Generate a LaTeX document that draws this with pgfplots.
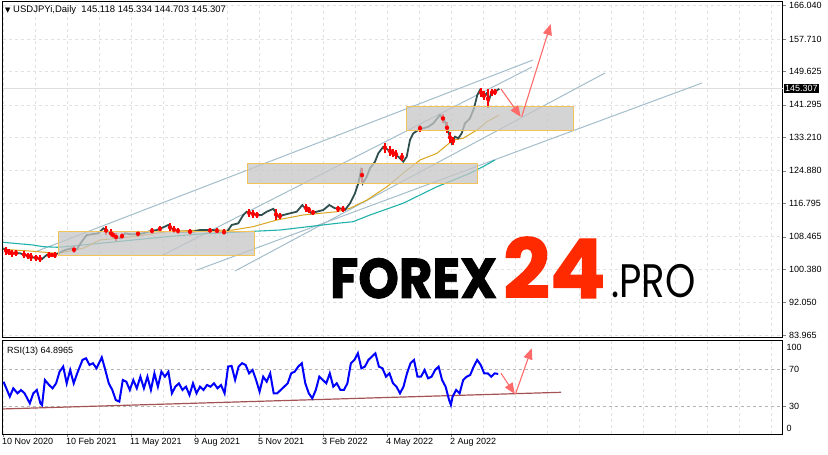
\documentclass[border=0pt]{standalone}
\usepackage{fontspec}
\setmainfont{Liberation Sans}
\newfontfamily\dejavu{DejaVu Sans}
\newfontfamily\logo{Poppins}[BoldFeatures={FakeBold=1.6}]
\usepackage{pgfplots}
\pgfplotsset{compat=1.18}
\usetikzlibrary{arrows.meta}

\definecolor{candle}{HTML}{2F4F4F}
\definecolor{ma50}{HTML}{DAA520}
\definecolor{ma200}{HTML}{20B2AA}
\definecolor{chan}{HTML}{A3BDCB}
\definecolor{boxline}{HTML}{F2C35A}
\definecolor{arrowred}{HTML}{FF6B6B}
\definecolor{gridc}{HTML}{E2E2E2}
\definecolor{rsigrid}{HTML}{B4B4B4}
\definecolor{rsitrend}{HTML}{A55252}
\definecolor{logored}{HTML}{FF2A00}

\newcommand{\tf}{\fontsize{9bp}{10bp}\selectfont}

\pgfplotsset{
  mt4/.style={
    scale only axis, width=780bp, anchor=south west,
    xmin=2.5, xmax=782.5,
    axis line style={black, line width=1bp},
    tick label style={font=\tf},
    ytick pos=right, yticklabel pos=right,
    tick align=outside, major tick length=3bp,
    /pgf/number format/assume math mode=true,
    grid style={gridc, dash pattern=on 3bp off 3bp, line width=0.6bp},
    clip=false,
  },
  zone/.style={fill=gray!45, fill opacity=0.75, draw=boxline, line width=1bp, draw opacity=1},
  chl/.style={chan, line width=1bp},
  arr/.style={arrowred, line width=1.1bp, -{Triangle[length=11bp,width=9bp]}},
}

% price panel, x = bar position (one pixel per day), y = USDJPY
\pgfplotstableread{
x y
3.3 105.57
10 104.32
20 104.32
30 103.47
36.7 103.08
41.7 102.83
46.7 103.90
53.3 103.90
58.3 104.32
65 105.14
71.7 105.57
76.7 105.32
81.7 107.21
86.7 108.88
91.7 109.05
98.3 109.30
103.3 110.55
108.3 109.70
115 108.46
120 108.06
125 109.30
130 109.05
136.7 109.05
143.3 109.30
148.3 109.70
156.7 110.12
163.3 110.80
168.3 111.37
173.3 110.12
180 109.70
186.7 109.70
193.3 109.70
200 110.12
206.7 110.12
213.3 110.12
220 109.70
226.7 109.55
231.7 111.37
238.3 111.79
243.3 113.86
246.7 114.68
251.7 114.28
256.7 113.86
261.7 113.86
266.7 114.68
273.3 115.40
278.3 113.44
283.3 113.86
290 114.28
296.7 114.68
302.3 116.35
306.7 115.11
311.7 114.28
316.7 114.68
323.3 115.11
329.3 116.35
335 115.53
340 115.53
345 115.11
350 116.77
355 119.27
358.3 121.76
360.7 124.65
362.7 121.76
366.7 123.40
370 125.49
375 127.14
378.3 129.23
383.3 130.87
388.3 130.05
393.3 129.23
398.3 128.38
403.3 127.14
406.7 128.38
410 132.54
413.3 134.21
418.3 135.03
423.3 135.45
428.3 135.85
433.3 136.70
440 138.77
445 137.10
448.3 134.61
451.7 131.79
455 133.36
458.3 132.96
461.7 134.21
465 136.70
470 137.95
474 140.44
477.3 143.75
480 144.99
483.3 143.33
486.7 144.17
489 142.50
491.7 144.57
495 144.57
499.3 145.31
}\closes

% down candles: middle and half range
\pgfplotstableread{
x y e
6 105.0 1.0
9 104.6 0.8
12 104.3 0.9
16 104.4 0.7
24 104.0 0.8
28 103.7 0.7
31 103.4 0.9
36 103.2 0.7
40 103.0 0.9
49 103.9 0.7
52 103.9 0.6
55 103.9 0.7
74 105.2 0.9
106 110.0 1.0
111 109.3 1.0
113 108.9 0.8
116 108.4 0.9
122 108.6 0.7
138 109.2 0.8
152 109.9 0.7
160 110.4 0.8
170 110.8 1.1
174 110.2 0.9
178 109.9 0.8
190 109.7 0.7
210 110.0 0.7
217 109.9 0.6
224 109.6 0.8
249 114.4 1.0
253 114.1 0.9
257 113.9 0.8
276 114.0 1.3
280 113.6 0.8
306 115.6 1.0
309 115.1 0.8
313 114.5 0.7
338 115.4 0.8
343 115.3 0.8
362 123.8 1.8
385 130.6 1.2
390 129.8 1.2
393 129.3 1.0
396 129.0 1.1
402 128.3 1.0
420 135.5 0.9
443 137.9 1.2
447 135.6 1.4
450 133.2 1.3
453 132.3 1.1
481 144.4 1.1
484 143.6 1.2
488 142.8 2.4
492 144.4 0.9
495 144.5 0.8
}\downs

\pgfplotstableread{
x y
3 105.32
30 104.89
58 104.30
83 105.57
100 107.63
133 108.46
167 109.70
200 110.12
233 110.12
253 110.95
277 112.62
303 113.86
337 114.68
350 115.53
367 117.60
387 120.91
403 124.25
420 127.56
437 129.23
453 132.54
463 132.96
477 135.03
487 137.10
499 138.77
}\mafast

\pgfplotstableread{
x y
3 107.06
33 106.39
43 105.97
58 105.82
83 106.39
133 107.63
167 108.46
200 109.13
233 109.55
280 110.12
303 110.80
337 111.79
353 112.19
370 113.86
403 116.77
437 120.91
470 124.25
483 125.89
495 127.56
}\maslow

\pgfplotstableread{
x y
3.5 56.6
7 47.6
9.8 40.4
13.3 49.4
17.5 44.0
21 47.6
24.6 44.0
29.8 33.2
33.3 44.0
36.8 47.6
40.4 33.2
42.1 31.4
44.9 58.4
49.1 53.0
52.6 49.4
56.1 54.8
59.6 67.4
63.2 72.9
66.7 54.8
70.2 69.2
73.7 54.8
77.2 65.6
82.5 80.1
86 81.9
89.5 74.7
93 76.5
96.5 71.0
101.8 82.9
105.3 69.2
108.8 54.8
112.3 47.6
115.8 36.8
119.3 35.0
122.8 58.4
126.3 56.6
129.8 47.6
133.3 58.4
136.8 49.4
140.4 62.0
143.9 49.4
147.4 62.0
150.9 47.6
154.4 65.6
157.9 51.2
161.4 67.4
164.9 62.0
168.4 67.4
171.9 44.0
175.4 51.2
178.9 54.8
182.5 47.6
186 51.2
189.5 42.2
193 54.8
196.5 44.0
200 51.2
203.5 47.6
207 53.0
210.5 51.2
214 54.8
217.5 49.4
221 53.0
224.6 44.0
228.1 72.9
231.6 73.6
235.1 58.4
238.6 72.9
242.1 76.5
245.6 74.7
249.1 65.6
252.6 69.2
256.1 58.4
259.6 45.8
263.2 62.0
266.7 56.6
270.2 65.6
273.7 44.0
277.2 44.0
280.7 47.6
284.2 51.2
287.7 54.8
291.2 65.6
294.7 67.4
298.2 72.9
301.8 76.5
305.3 54.8
308.8 44.0
312.3 38.6
315.8 47.6
319.3 62.0
322.8 58.4
326.3 54.8
329.8 65.6
333.3 51.2
336.8 54.8
340.4 47.6
343.9 47.6
347.4 54.8
350.9 76.5
354.4 80.1
357.9 87.3
361.4 71.0
364.9 72.9
368.4 80.1
371.9 83.7
375.4 87.3
378.9 72.9
382.5 71.0
386 62.0
389.5 65.6
393 54.8
396.5 51.2
400 44.0
403.5 51.2
407 65.6
410.5 76.5
414 80.1
417.5 62.0
421 62.0
424.6 69.2
428.1 60.2
431.6 62.0
435.1 69.2
438.6 72.9
442.1 58.4
445.6 51.2
449.1 36.8
450.9 31.4
452.6 40.4
456.1 47.6
459.6 44.0
463.2 58.4
466.7 62.0
470.2 63.8
473.7 72.9
477.2 80.1
480.7 74.7
484.2 65.6
487.7 65.6
491.2 62.0
494.7 65.6
498.2 64.9
}\rsi

\begin{document}
\begin{tikzpicture}
\useasboundingbox (0,0) rectangle (828bp,455bp);

\begin{axis}[mt4, at={(2.5bp,117.3bp)}, height=336.2bp,
  ymin=83.30, ymax=167.04,
  xtick={3,35,...,771}, xticklabels={,,}, xtick style={draw=none}, xmajorgrids,
  ytick={83.965,92.050,100.380,108.465,116.795,124.880,133.210,141.295,149.625,157.710,166.040},
  yticklabels={83.965,92.050,100.380,108.465,116.795,124.880,133.210,141.295,149.625,157.710,166.040},
  ymajorgrids]
  \addplot[gray!25, line width=0.8bp] coordinates {(2.5,145.307) (782.5,145.307)};
  % channel lines
  \addplot[chl] coordinates {(35,104.65) (533,152.47)};
  \addplot[chl] coordinates {(163,103.90) (532,150.72)};
  \addplot[chl] coordinates {(235,99.91) (605,149.23)};
  \addplot[chl] coordinates {(197,100.16) (702,146.74)};
  % moving averages
  \addplot[ma200, line width=1.1bp] table {\maslow};
  \addplot[ma50, line width=1bp] table {\mafast};
  % price
  \addplot[candle, line width=1.8bp, line join=miter] table {\closes};
  \addplot[red, only marks, mark=none,
    error bars/.cd, y dir=both, y explicit, error mark=none,
    error bar style={red, line width=1.5bp}]
    table[x=x, y=y, y error=e] {\downs};
  % zones
  \addplot[zone] coordinates {(58,103.65) (254,103.65) (254,109.63) (58,109.63)} -- cycle;
  \addplot[zone] coordinates {(247,121.76) (477,121.76) (477,126.74) (247,126.74)} -- cycle;
  \addplot[zone] coordinates {(406,134.91) (573,134.91) (573,141.01) (406,141.01)} -- cycle;
  % forecast arrows
  \addplot[arr] coordinates {(501,145.24) (520.7,138.34)};
  \addplot[arr] coordinates {(521.7,138.34) (550.7,161.43)};
  \node[anchor=west, fill=black, text=white, font=\tf, inner xsep=1.5bp, inner ysep=1.2bp]
    at (axis cs:783.5,145.307) {145.307};
\end{axis}

\begin{axis}[mt4, at={(2.5bp,21bp)}, height=93.3bp,
  ymin=0, ymax=100.9,
  xtick={3,67,...,451},
  xticklabels={10 Nov 2020,10 Feb 2021,11 May 2021,9 Aug 2021,5 Nov 2021,3 Feb 2022,4 May 2022,2 Aug 2022},
  xticklabel style={anchor=north west, xshift=-2bp, inner sep=1bp},
  xtick pos=bottom,
  minor xtick={3,35,...,771}, xminorgrids, minor tick length=0pt,
  ytick={30,70}, ymajorgrids,
  y grid style={rsigrid, dash pattern=on 3bp off 3bp, line width=0.7bp}]
  \addplot[rsitrend, line width=1.2bp] coordinates {(3,27.1) (561,45.1)};
  \addplot[blue, line width=2bp, line join=miter] table {\rsi};
  \addplot[arr] coordinates {(501,65.7) (514.8,43.3)};
  \addplot[arr] coordinates {(515.5,43.3) (531.7,92.7)};
  \node[anchor=west, font=\tf, inner sep=0] at (axis cs:786.5,94) {100};
  \node[anchor=west, font=\tf, inner sep=0] at (axis cs:786.5,6.5) {0};
  \node[anchor=base west, font=\tf, inner sep=0] at (axis cs:7,87.5) {RSI(13) 64.8965};
\end{axis}

\node[anchor=base west, font=\fontsize{9.5bp}{10bp}\selectfont, inner sep=0] at (5bp,442bp)
  {{\dejavu\fontsize{7bp}{8bp}\selectfont ▼} USDJPYi,Daily\ \ 145.118 145.334 144.703 145.307};

\node[anchor=base west, inner sep=0, xscale=0.92] at (330bp,157bp)
  {\logo\bfseries\fontsize{56bp}{56bp}\selectfont FOREX};
\node[anchor=base west, inner sep=0, text=logored] at (503bp,157bp)
  {\logo\bfseries\fontsize{82bp}{82bp}\selectfont 24};
\node[anchor=base west, inner sep=0, xscale=0.82] at (611bp,157bp)
  {\logo\fontsize{47bp}{47bp}\selectfont .PRO};
\end{tikzpicture}
\end{document}
